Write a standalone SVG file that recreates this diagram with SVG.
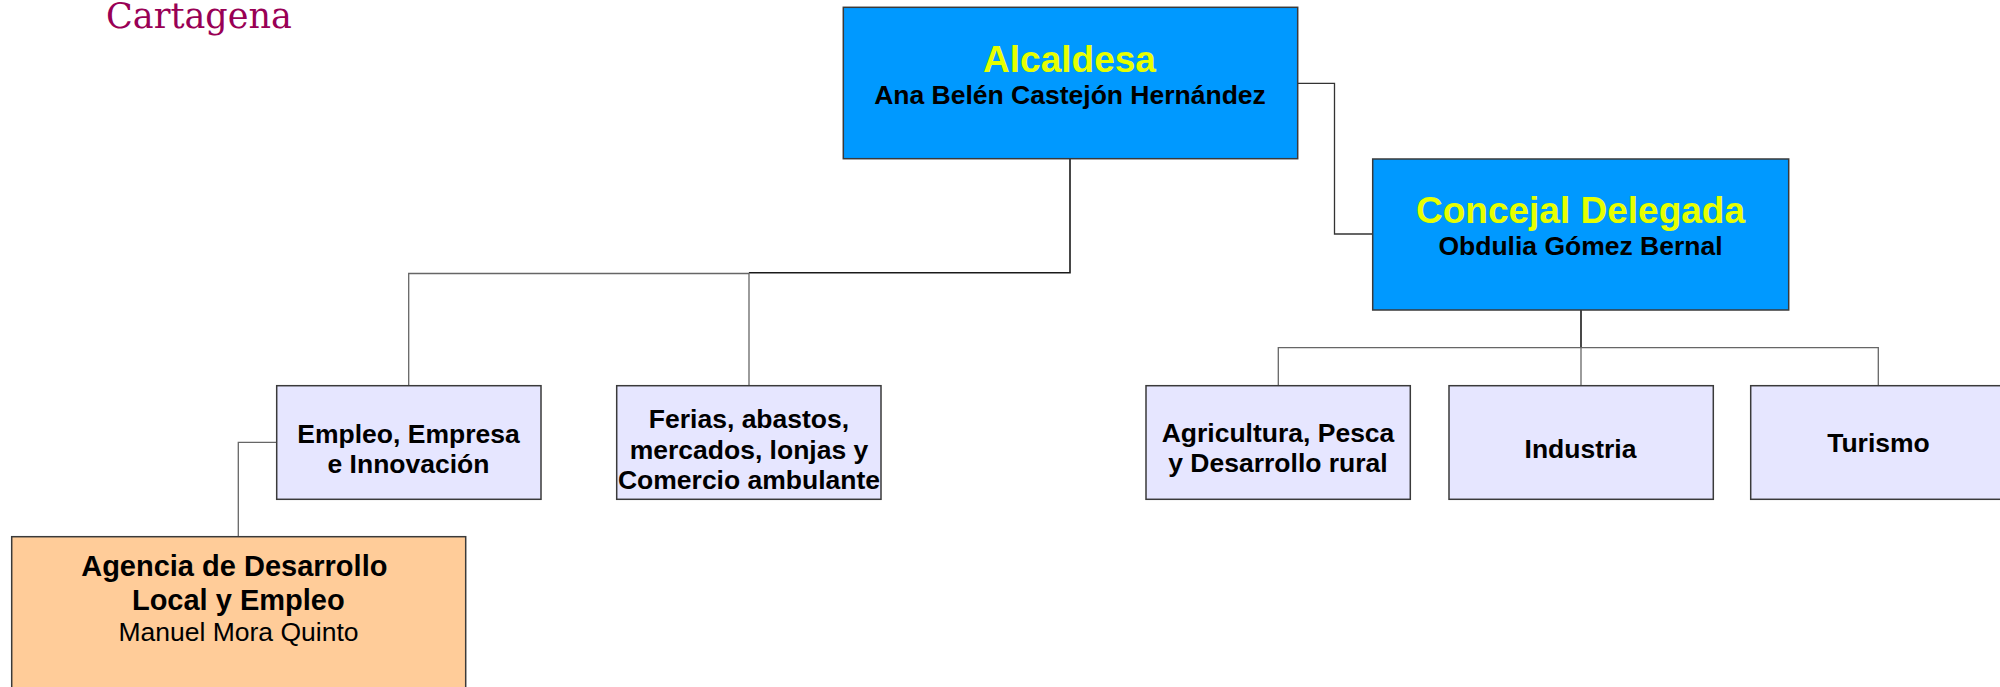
<svg xmlns="http://www.w3.org/2000/svg" width="2000" height="687" viewBox="0 0 2000 687">
<style>
.box{stroke:#3a3a3a;stroke-width:1.5}
.blue{fill:#0099ff}
.lav{fill:#e6e6ff}
.org{fill:#ffcc99}
.t{font-family:"Liberation Sans",Arial,sans-serif;text-anchor:middle}
.b{font-weight:bold}
.title{font-size:37px;fill:#e6ff00;font-weight:bold}
.name{font-size:26.5px;fill:#000}
.lbl{font-size:26.5px;fill:#000;font-weight:bold}
.dark{fill:none;stroke:#1a1a1a;stroke-width:1.6}
.gray{fill:none;stroke:#666;stroke-width:1.3}
</style>
<rect width="2000" height="687" fill="#fff"/>
<text x="106" y="28" font-family="'DejaVu Serif',serif" font-size="35" fill="#990055">Cartagena</text>
<g id="connectors">
<polyline class="dark" points="1070,159 1070,272.7 749,272.7"/>
<polyline class="gray" points="749,273.5 408.7,273.5 408.7,385.7"/>
<line class="gray" x1="749" y1="272.7" x2="749" y2="385.7"/>
<polyline class="dark" points="1297.7,83.3 1334.5,83.3 1334.5,234 1372.7,234" style="stroke:#333;stroke-width:1.3"/>
<line class="dark" x1="1581" y1="310" x2="1581" y2="347.7"/>
<polyline class="gray" points="1278.3,385.7 1278.3,347.7 1878.3,347.7 1878.3,385.7"/>
<line class="gray" x1="1581" y1="347.7" x2="1581" y2="385.7"/>
<polyline class="gray" points="276.7,442.3 238.3,442.3 238.3,536.7"/>
</g>
<g id="alcaldesa">
<rect class="box blue" x="843.3" y="7.3" width="454.4" height="151.4"/>
<text class="t title" x="1069.5" y="71.7">Alcaldesa</text>
<text class="t name b" x="1070" y="103.5">Ana Belén Castejón Hernández</text>
</g>
<g id="concejal">
<rect class="box blue" x="1372.7" y="159" width="416" height="151"/>
<text class="t title" x="1580.5" y="222.7">Concejal Delegada</text>
<text class="t name b" x="1580.5" y="254.5">Obdulia Gómez Bernal</text>
</g>
<g id="empleo">
<rect class="box lav" x="276.7" y="385.7" width="264.3" height="113.6"/>
<text class="t lbl" x="408.5" y="443.3">Empleo, Empresa</text>
<text class="t lbl" x="408.5" y="473.3">e Innovación</text>
</g>
<g id="ferias">
<rect class="box lav" x="616.7" y="385.7" width="264.3" height="113.6"/>
<text class="t lbl" x="749" y="428">Ferias, abastos,</text>
<text class="t lbl" x="749" y="458.5">mercados, lonjas y</text>
<text class="t lbl" x="749" y="489">Comercio ambulante</text>
</g>
<g id="agricultura">
<rect class="box lav" x="1146" y="385.7" width="264.3" height="113.6"/>
<text class="t lbl" x="1278" y="441.7">Agricultura, Pesca</text>
<text class="t lbl" x="1278" y="471.7">y Desarrollo rural</text>
</g>
<g id="industria">
<rect class="box lav" x="1449" y="385.7" width="264.3" height="113.6"/>
<text class="t lbl" x="1580.5" y="457.5">Industria</text>
</g>
<g id="turismo">
<rect class="box lav" x="1750.7" y="385.7" width="264.3" height="113.6"/>
<text class="t lbl" x="1878.5" y="451.7">Turismo</text>
</g>
<g id="agencia">
<rect class="box org" x="11.7" y="536.7" width="454" height="170"/>
<text class="t b" x="234.3" y="575.7" font-size="29">Agencia de Desarrollo</text>
<text class="t b" x="238.3" y="610" font-size="29">Local y Empleo</text>
<text class="t" x="238.5" y="640.7" font-size="26.5">Manuel Mora Quinto</text>
</g>
</svg>
